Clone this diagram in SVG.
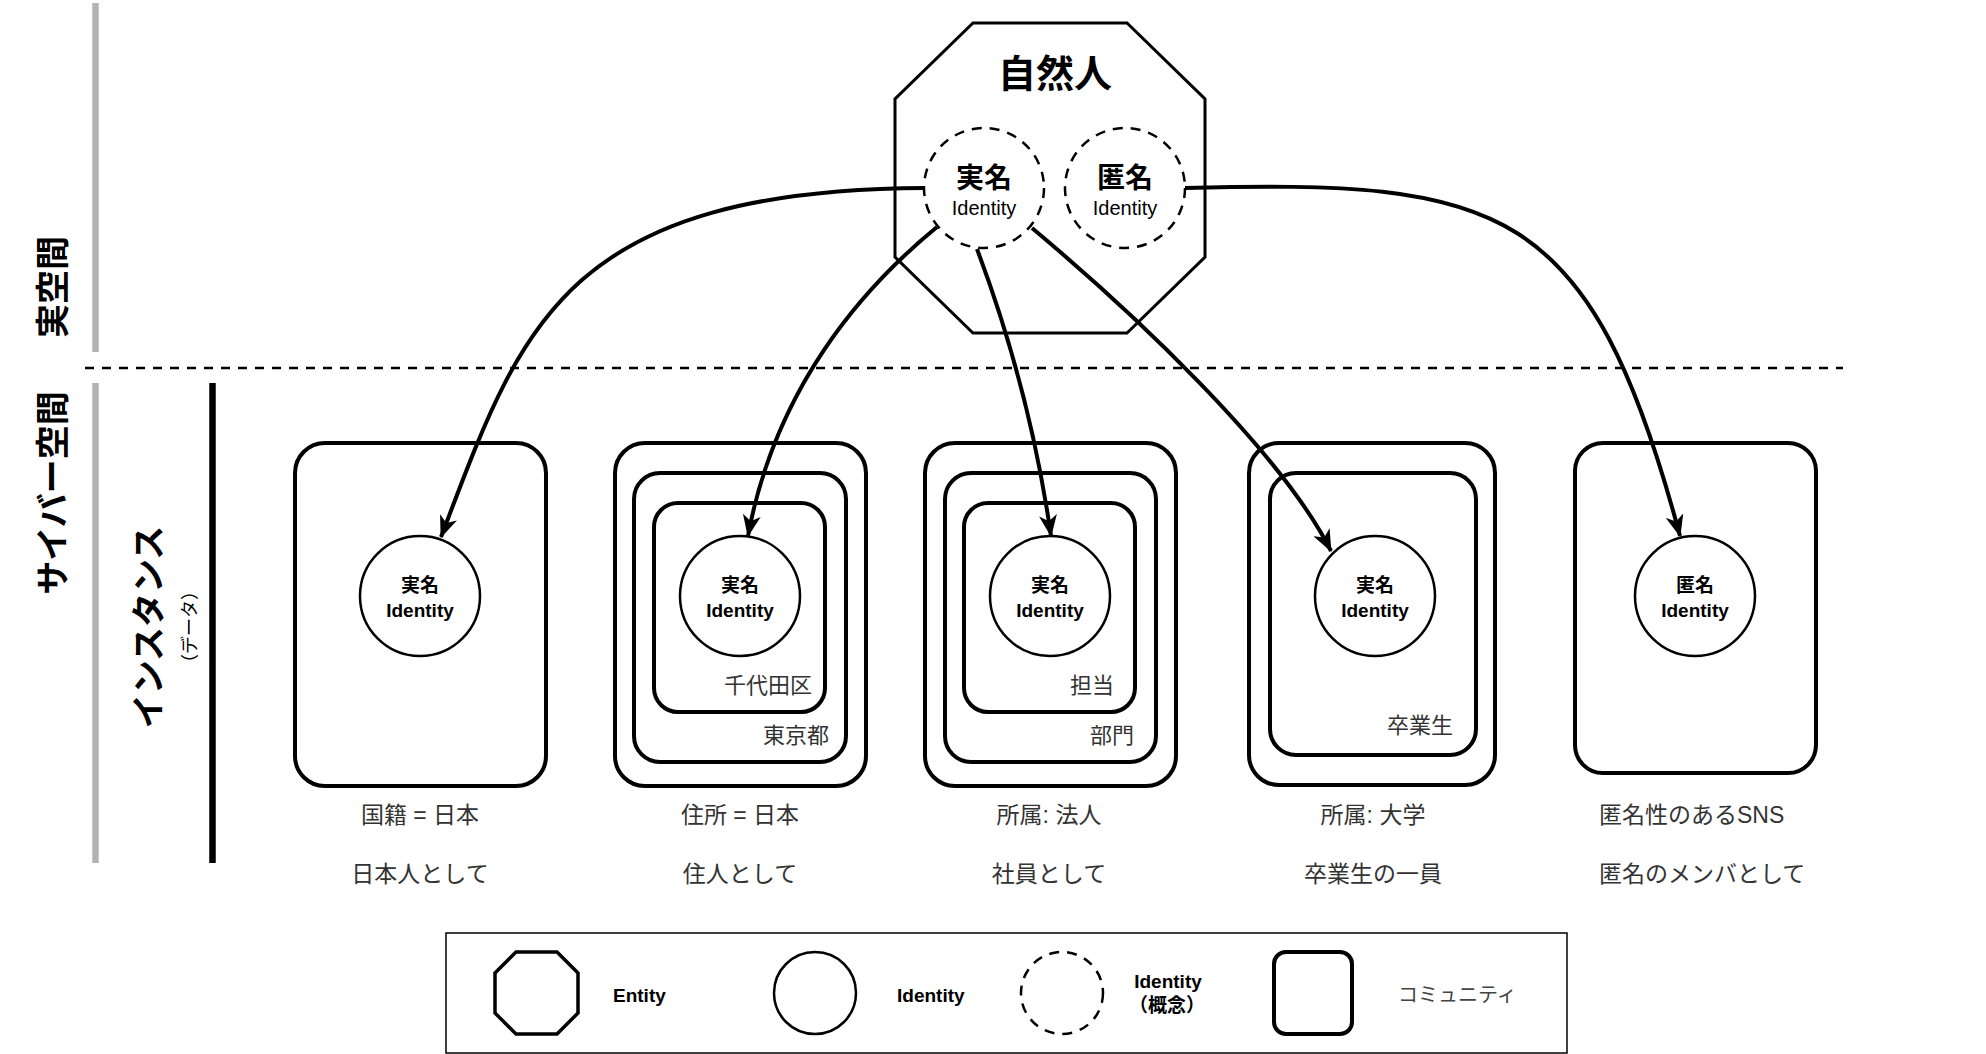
<svg xmlns="http://www.w3.org/2000/svg" width="1986" height="1054" viewBox="0 0 1986 1054">
<defs>
<marker id="arr" viewBox="0 0 22 18" markerWidth="22" markerHeight="18" refX="21" refY="9" orient="auto" markerUnits="userSpaceOnUse">
<path d="M22,9 L0,0 L6,9 L0,18 Z" fill="#000"/>
</marker>
<style>
text{font-family:"Liberation Sans","Noto Sans CJK JP",sans-serif;}
.side{font-size:34px;font-weight:bold;fill:#000;text-anchor:middle;}
.comm{fill:#fff;stroke:#000;stroke-width:4;}
.idc{fill:#fff;stroke:#000;stroke-width:2.5;}
.dash{fill:#fff;stroke:#000;stroke-width:2.5;stroke-dasharray:10 8;}
.idn{font-size:19px;font-weight:bold;text-anchor:middle;fill:#000;}
.lbl{font-size:23px;fill:#333;text-anchor:middle;}
.inl{font-size:22px;fill:#333;text-anchor:end;}
.conn{fill:none;stroke:#000;stroke-width:4;marker-end:url(#arr);}
.leg{font-size:19px;font-weight:bold;fill:#000;}
</style>
</defs>
<rect width="1986" height="1054" fill="#fff"/>

<g id="axes">
<line x1="95.5" y1="3" x2="95.5" y2="352" stroke="#b3b3b3" stroke-width="6.5"/>
<line x1="95.5" y1="383" x2="95.5" y2="863" stroke="#b3b3b3" stroke-width="6.5"/>
<line x1="212.5" y1="383" x2="212.5" y2="863" stroke="#000" stroke-width="6.5"/>
<line x1="85" y1="368" x2="1843" y2="368" stroke="#000" stroke-width="2.5" stroke-dasharray="9 8"/>
<text class="side" transform="translate(65,287) rotate(-90)">実空間</text>
<text class="side" transform="translate(65,493) rotate(-90)">サイバー空間</text>
<text class="side" transform="translate(161,627) rotate(-90)">インスタンス</text>
<text transform="translate(196,627) rotate(-90)" font-size="18" text-anchor="middle" fill="#000">（データ）</text>
</g>

<g id="entity">
<polygon points="973,23 1127,23 1205,99 1205,257 1127,333 973,333 895,257 895,99" fill="#fff" stroke="#000" stroke-width="3"/>
<text x="1055" y="87" font-size="38" font-weight="bold" text-anchor="middle">自然人</text>
</g>
<g id="real-identity">
<circle class="dash" cx="984" cy="188" r="60"/>
<text x="984" y="188" font-size="28" font-weight="bold" text-anchor="middle">実名</text>
<text x="984" y="215" font-size="20" text-anchor="middle">Identity</text>
</g>
<g id="anon-identity">
<circle class="dash" cx="1125" cy="188" r="60"/>
<text x="1125" y="188" font-size="28" font-weight="bold" text-anchor="middle">匿名</text>
<text x="1125" y="215" font-size="20" text-anchor="middle">Identity</text>
</g>

<g id="community-nationality">
<rect class="comm" x="295" y="443" width="251" height="343" rx="30"/>
<circle class="idc" cx="420" cy="596" r="60"/>
<text class="idn" x="420" y="592">実名</text>
<text class="idn" x="420" y="617">Identity</text>
<text class="lbl" x="420" y="823">国籍 = 日本</text>
<text class="lbl" x="420" y="882">日本人として</text>
</g>

<g id="community-address">
<rect class="comm" x="615" y="443" width="251" height="343" rx="30"/>
<rect class="comm" x="634" y="473" width="212" height="289" rx="26"/>
<rect class="comm" x="654" y="503" width="171" height="209" rx="24"/>
<circle class="idc" cx="740" cy="596" r="60"/>
<text class="idn" x="740" y="592">実名</text>
<text class="idn" x="740" y="617">Identity</text>
<text class="inl" x="812" y="693">千代田区</text>
<text class="inl" x="829" y="743">東京都</text>
<text class="lbl" x="740" y="823">住所 = 日本</text>
<text class="lbl" x="740" y="882">住人として</text>
</g>

<g id="community-company">
<rect class="comm" x="925" y="443" width="251" height="343" rx="30"/>
<rect class="comm" x="945" y="473" width="211" height="289" rx="26"/>
<rect class="comm" x="964" y="503" width="171" height="209" rx="24"/>
<circle class="idc" cx="1050" cy="596" r="60"/>
<text class="idn" x="1050" y="592">実名</text>
<text class="idn" x="1050" y="617">Identity</text>
<text class="inl" x="1114" y="693">担当</text>
<text class="inl" x="1134" y="743">部門</text>
<text class="lbl" x="1049" y="823">所属: 法人</text>
<text class="lbl" x="1049" y="882">社員として</text>
</g>

<g id="community-university">
<rect class="comm" x="1249" y="443" width="246" height="342" rx="30"/>
<rect class="comm" x="1270" y="473" width="206" height="282" rx="26"/>
<circle class="idc" cx="1375" cy="596" r="60"/>
<text class="idn" x="1375" y="592">実名</text>
<text class="idn" x="1375" y="617">Identity</text>
<text class="inl" x="1453" y="733">卒業生</text>
<text class="lbl" x="1373" y="823">所属: 大学</text>
<text class="lbl" x="1373" y="882">卒業生の一員</text>
</g>

<g id="community-sns">
<rect class="comm" x="1575" y="443" width="241" height="330" rx="28"/>
<circle class="idc" cx="1695" cy="596" r="60"/>
<text class="idn" x="1695" y="592">匿名</text>
<text class="idn" x="1695" y="617">Identity</text>
<text class="lbl" x="1599" y="823" style="text-anchor:start">匿名性のあるSNS</text>
<text class="lbl" x="1599" y="882" style="text-anchor:start">匿名のメンバとして</text>
</g>

<g id="connectors">
<path class="conn" d="M925,188 C560,190 520,330 441,537"/>
<path class="conn" d="M937,227 C860,290 775,390 748,536"/>
<path class="conn" d="M977,249 Q1030,390 1051,536"/>
<path class="conn" d="M1032,228 C1130,310 1280,450 1331,551"/>
<path class="conn" d="M1185,188 C1500,180 1590,200 1680,536"/>
</g>

<g id="legend">
<rect x="446" y="933" width="1121" height="120" fill="none" stroke="#000" stroke-width="1.5"/>
<polygon points="516,952 557,952 578,973 578,1013 557,1034 516,1034 495,1013 495,973" fill="#fff" stroke="#000" stroke-width="3.5"/>
<text class="leg" x="613" y="1002">Entity</text>
<circle class="idc" cx="815" cy="993" r="41"/>
<text class="leg" x="897" y="1002">Identity</text>
<circle class="dash" cx="1062" cy="993" r="41"/>
<text class="leg" x="1168" y="988" text-anchor="middle">Identity</text>
<text class="leg" x="1167" y="1012" text-anchor="middle">（概念）</text>
<rect class="comm" x="1274" y="952" width="78" height="82" rx="12"/>
<text x="1398" y="1002" font-size="20" fill="#444">コミュニティ</text>
</g>
</svg>
